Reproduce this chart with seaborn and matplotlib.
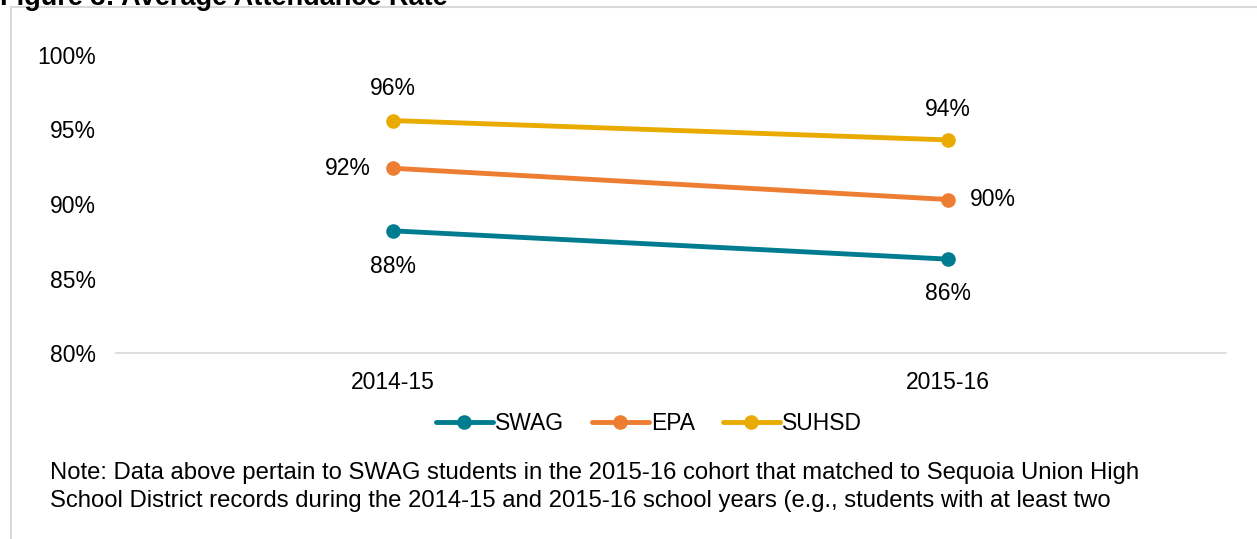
"""
Figure 3: Average Attendance Rate
- 三条折线：SWAG / EPA / SUHSD
"""
import matplotlib
matplotlib.use("Agg")
import matplotlib.pyplot as plt
import pandas as pd
import seaborn as sns
from matplotlib.lines import Line2D
from matplotlib.patches import Rectangle

years = ["2014-15", "2015-16"]
groups = ["SWAG", "EPA", "SUHSD"]
swag_rate = [88.2, 86.3]
epa_rate = [92.4, 90.3]
suhsd_rate = [95.6, 94.3]
colors = ["#007C91", "#ED7D31", "#EAAB00"]
y_ticks = [80, 85, 90, 95, 100]
title = "Figure 3: Average Attendance Rate"
note = ("Note: Data above pertain to SWAG students in the 2015-16 cohort that matched to Sequoia Union High\n"
        "School District records during the 2014-15 and 2015-16 school years (e.g., students with at least two")

FS = 16.5

rows = []
for g, vals in zip(groups, [swag_rate, epa_rate, suhsd_rate]):
    for yr, v in zip(years, vals):
        rows.append({"year": yr, "group": g, "rate": v})
df = pd.DataFrame(rows)

sns.set_style("white")
plt.rcParams["font.family"] = ["Liberation Sans", "DejaVu Sans"]
plt.rcParams["text.color"] = "#000000"

fig = plt.figure(figsize=(12.57, 5.39), dpi=100)
ax = fig.add_axes([0.0919, 0.345, 0.8831, 0.553])

sns.lineplot(data=df, x="year", y="rate", hue="group", hue_order=groups,
             palette=colors, marker="o", markersize=10.5, markeredgewidth=0,
             linewidth=3.5, legend=False, ax=ax)

# 数据标签
offsets = {"SWAG": [(0, -26), (0, -25)],
           "EPA": [(-16, 0), (16, 0)],
           "SUHSD": [(0, 23), (0, 22)]}
aligns = {"SWAG": [("center", "center")] * 2,
          "EPA": [("right", "center"), ("left", "center")],
          "SUHSD": [("center", "center")] * 2}
for g, vals in zip(groups, [swag_rate, epa_rate, suhsd_rate]):
    for i, v in enumerate(vals):
        ha, va = aligns[g][i]
        ax.annotate(f"{round(v)}%", (i, v), xytext=offsets[g][i],
                    textcoords="offset points", ha=ha, va=va,
                    fontsize=FS, color="#000000")

ax.set_xlim(-0.5, 1.5)
ax.set_ylim(80, 100)
ax.set_yticks(y_ticks)
ax.set_yticklabels([f"{t}%" for t in y_ticks])
ax.set_xlabel("")
ax.set_ylabel("")
ax.tick_params(axis="both", length=0, labelsize=FS, colors="#000000")
ax.tick_params(axis="x", pad=13)
ax.tick_params(axis="y", pad=14)
for side in ["top", "right", "left"]:
    ax.spines[side].set_visible(False)
ax.spines["bottom"].set_color("#D9D9D9")
ax.spines["bottom"].set_linewidth(1.2)
ax.grid(False)

handles = [Line2D([0], [0], color=c, linewidth=3.5, marker="o", markersize=10.5,
                  markeredgewidth=0) for c in colors]
fig.legend(handles, groups, loc="center", bbox_to_anchor=(649 / 1257, 1 - 424 / 539),
           ncol=3, frameon=False, fontsize=FS, handlelength=2.5,
           columnspacing=1.2, handletextpad=0.1)

# 外框与标题
fig.patches.append(Rectangle((11 / 1257, -0.1), 1.2, 1 - 7 / 539 + 0.1,
                             transform=fig.transFigure, fill=False,
                             edgecolor="#D9D9D9", linewidth=1.5))
fig.text(0.0, 1 - 5 / 539, title, fontsize=19.5, fontweight="bold",
         ha="left", va="baseline")
fig.text(50 / 1257, 1 - 487 / 539, note, fontsize=17.2, ha="left", va="center",
         linespacing=1.38)

fig.savefig("out.png", dpi=100)
